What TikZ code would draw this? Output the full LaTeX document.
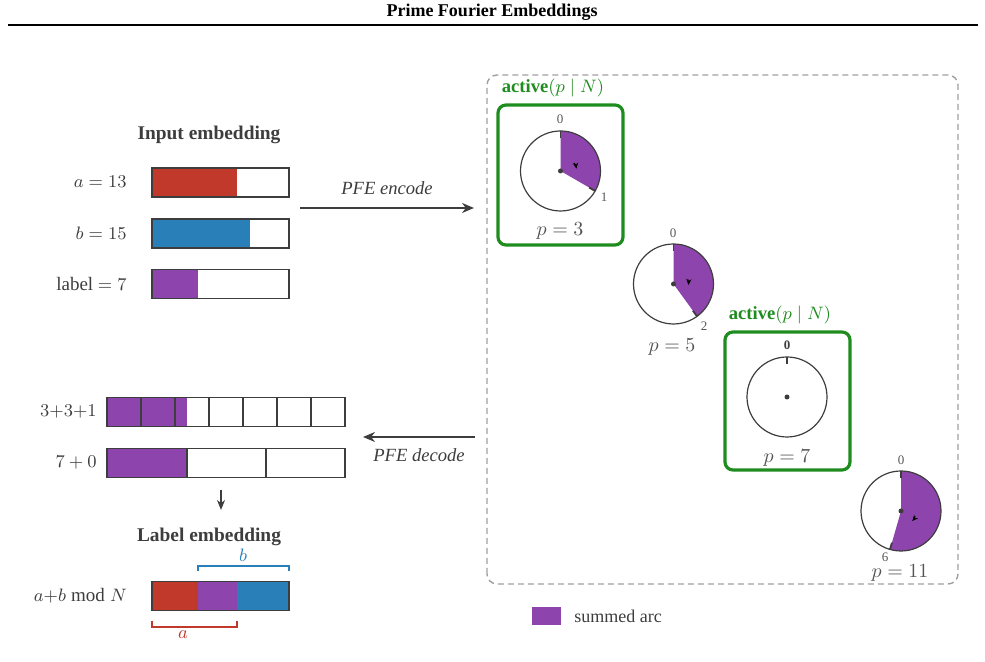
\documentclass[tikz,border=0pt]{standalone}
\usepackage{amsmath}
\usepackage{fontspec}
\setmainfont{Liberation Serif}
\usetikzlibrary{arrows.meta,calc}
\definecolor{pfered}{HTML}{C0392B}
\definecolor{pfeblue}{HTML}{2980B9}
\definecolor{pfepurple}{HTML}{8E44AD}
\definecolor{pfegreen}{HTML}{1E8C1E}
\definecolor{pfeink}{HTML}{3D3D3D}
\definecolor{pfegray}{HTML}{555555}
\tikzset{
  bar/.style={draw=pfeink,line width=.8pt,minimum width=68.5pt,minimum height=14.5pt,inner sep=0pt},
  cell/.style={draw=pfeink,line width=.8pt},
  conn/.style={draw=pfeink,line width=.8pt,-{Stealth[length=6pt,width=5pt]}},
  head/.style={font=\fontsize{9.7}{12}\selectfont\bfseries,text=pfeink},
  activebox/.style={draw=pfegreen,line width=1.6pt,rounded corners=4pt},
  activelab/.style={font=\fontsize{9.3}{11}\selectfont,text=pfegreen},
  wheel/.style={draw=pfeink,line width=.6pt},
  tick/.style={draw=pfeink,line width=.9pt},
  resid/.style={font=\fontsize{6.5}{8}\selectfont,text=pfegray},
  plab/.style={font=\fontsize{9.7}{12}\selectfont,text=pfegray},
  turn/.style={draw=black,line width=.5pt,-{Stealth[length=3pt,width=2.6pt]}}
}
\begin{document}
\begin{tikzpicture}[x=.5pt,y=.5pt,line width=.6pt,font=\fontsize{9.5}{11}\selectfont,text=pfeink]
\useasboundingbox (0,0) rectangle (985,662);
% title
\node[font=\fontsize{9}{11}\selectfont\bfseries,text=black] (title) at (492,650) {Prime Fourier Embeddings};
\draw[line width=1.2pt] (8,637)--(978,637);

% input embedding
\node[head] (inhead) at (209,527) {Input embedding};
\fill[pfered] (152,465) rectangle (237,494);
\node[bar] (abar) at (220.5,479.5) {};
\fill[pfeblue] (152,414) rectangle (250,443);
\node[bar] (bbar) at (220.5,428.5) {};
\fill[pfepurple] (152,364) rectangle (198,392);
\node[bar] (lbar) at (220.5,378) {};
\node[anchor=east] (alab) at (134,480) {$a=13$};
\node[anchor=east] (blab) at (134,429) {$b=15$};
\node[anchor=east] (llab) at (134,378) {label $=7$};

% encode
\coordinate (encS) at (300,454);
\coordinate (encE) at (474,454);
\draw[conn] (encS)--(encE) node[midway,above=3pt,font=\fontsize{9.3}{11}\selectfont\itshape] (enclab) {PFE encode};

% residue panel
\draw[draw=gray!75,line width=.7pt,dash pattern=on 3pt off 2pt,rounded corners=5pt] (487,78) rectangle (958,587);

% p=3
\node[activelab] (act3) at (553,574) {\textbf{active}$(p\mid N)$};
\draw[activebox] (498,417) rectangle (623,557);
\coordinate (c3) at (560.5,491);
\fill[pfepurple] (c3) -- ++(90:40) arc[start angle=90,end angle=-30,radius=40] -- cycle;
\draw[wheel] (c3) circle[radius=40];
\draw[tick] ($(c3)+(90:40)$)--($(c3)+(90:33)$);
\draw[tick] ($(c3)+(-30:40)$)--($(c3)+(-30:33)$);
\fill[pfeink] (c3) circle[radius=2.5];
\draw[turn] ($(c3)+(30:16)$) arc[start angle=30,end angle=8,radius=16];
\node[resid] (z3) at (560,543) {0};
\node[resid] (r3) at (604,465) {1};
\node[plab] (p3) at (560,431) {$p=3$};

% p=5
\coordinate (c5) at (673.5,378);
\fill[pfepurple] (c5) -- ++(90:40) arc[start angle=90,end angle=-54,radius=40] -- cycle;
\draw[wheel] (c5) circle[radius=40];
\draw[tick] ($(c5)+(90:40)$)--($(c5)+(90:33)$);
\draw[tick] ($(c5)+(-54:40)$)--($(c5)+(-54:33)$);
\fill[pfeink] (c5) circle[radius=2.5];
\draw[turn] ($(c5)+(18:15)$) arc[start angle=18,end angle=-4,radius=15];
\node[resid] (z5) at (673,429) {0};
\node[resid] (r5) at (704,336) {2};
\node[plab] (p5) at (672,315) {$p=5$};

% p=7
\node[activelab] (act7) at (780,347) {\textbf{active}$(p\mid N)$};
\draw[activebox] (725,192) rectangle (850,330);
\coordinate (c7) at (787,265);
\draw[wheel] (c7) circle[radius=40];
\draw[tick] ($(c7)+(90:40)$)--($(c7)+(90:33)$);
\fill[pfeink] (c7) circle[radius=2.5];
\node[resid,text=pfeink,font=\fontsize{6.5}{8}\selectfont\bfseries] (z7) at (787,317) {0};
\node[plab] (p7) at (787,204) {$p=7$};

% p=11
\coordinate (c11) at (901,151);
\fill[pfepurple] (c11) -- ++(90:40) arc[start angle=90,end angle=-106,radius=40] -- cycle;
\draw[wheel] (c11) circle[radius=40];
\draw[tick] ($(c11)+(90:40)$)--($(c11)+(90:33)$);
\draw[tick] ($(c11)+(-106:40)$)--($(c11)+(-106:33)$);
\fill[pfeink] (c11) circle[radius=2.5];
\draw[turn] ($(c11)+(-20:15)$) arc[start angle=-20,end angle=-42,radius=15];
\node[resid] (z11) at (901,202) {0};
\node[resid] (r11) at (885,105) {6};
\node[plab] (p11) at (900,89) {$p=11$};

% decode
\coordinate (decS) at (475,225);
\coordinate (decE) at (363,225);
\draw[conn] (decS)--(decE) node[midway,below=2pt,font=\fontsize{9.3}{11}\selectfont\itshape] (declab) {PFE decode};

\fill[pfepurple] (107,236) rectangle (187,264);
\node[bar,minimum width=119pt] (sumbar) at (226,250) {};
\foreach \x in {141,175,209,243,277,311} \draw[cell] (\x,236)--(\x,264);
\node[anchor=east] (sumlab) at (104,250) {$3{+}3{+}1$};

\fill[pfepurple] (107,185) rectangle (187,213);
\node[bar,minimum width=119pt] (crtbar) at (226,199) {};
\foreach \x in {187,266} \draw[cell] (\x,185)--(\x,213);
\node[anchor=east] (crtlab) at (104,199) {$7+0$};

\coordinate (downS) at (221,172);
\coordinate (downE) at (221,152);
\draw[conn,-{Stealth[length=5pt,width=4pt]}] (downS)--(downE);

% label embedding
\node[head] (outhead) at (209,125) {Label embedding};
\fill[pfered] (152,52) rectangle (198,80);
\fill[pfepurple] (198,52) rectangle (237,80);
\fill[pfeblue] (237,52) rectangle (289,80);
\node[bar] (sbar) at (220.5,66) {};
\node[anchor=east] (slab) at (134,66) {$a{+}b \bmod N$};
\draw[pfeblue,line width=.8pt] (198,91)--(198,96)--(289,96)--(289,91);
\node[text=pfeblue] (bmark) at (243,107) {$b$};
\draw[pfered,line width=.8pt] (152,41)--(152,35)--(237,35)--(237,41);
\node[text=pfered] (amark) at (183,27) {$a$};

% legend
\fill[pfepurple] (532,37) rectangle (561,55);
\node[anchor=west,font=\fontsize{9}{11}\selectfont] (legtext) at (567,46) {summed arc};
\end{tikzpicture}
\end{document}
